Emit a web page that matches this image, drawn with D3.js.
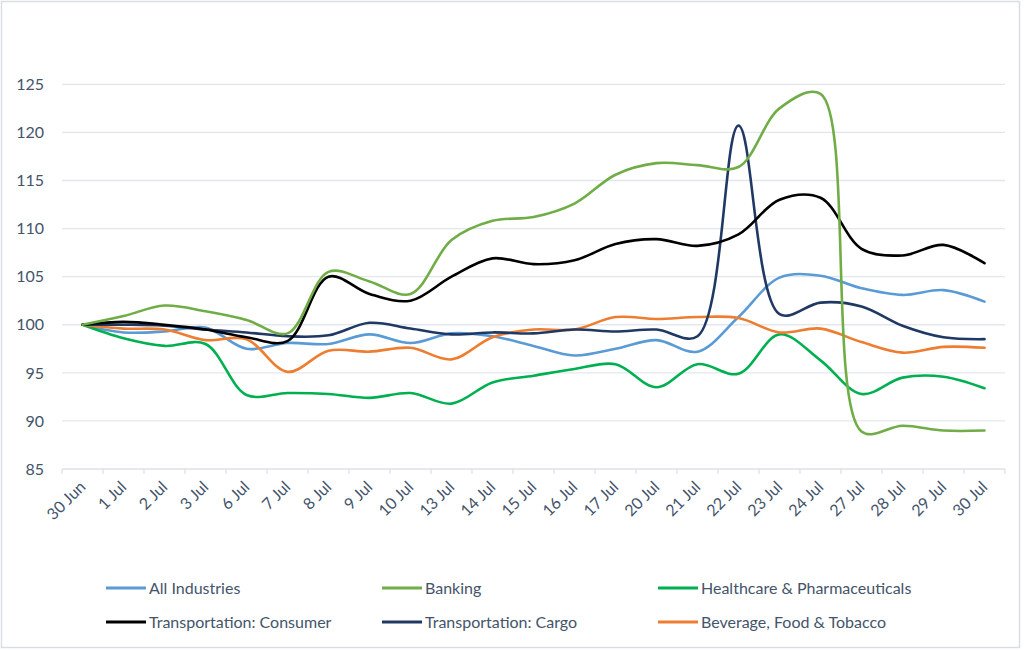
<!DOCTYPE html>
<html>
<head>
<meta charset="utf-8">
<script src="https://cdn.jsdelivr.net/npm/d3@7"></script>
<style>
  body { margin: 0; background: #fff; }
  text { font-family: Lato, "Open Sans", sans-serif; fill: #44546A; }
</style>
</head>
<body>
<script>
const width = 1024;
const height = 650;

const dates = ["30 Jun", "1 Jul", "2 Jul", "3 Jul", "6 Jul", "7 Jul", "8 Jul", "9 Jul",
  "10 Jul", "13 Jul", "14 Jul", "15 Jul", "16 Jul", "17 Jul", "20 Jul", "21 Jul",
  "22 Jul", "23 Jul", "24 Jul", "27 Jul", "28 Jul", "29 Jul", "30 Jul"];
const yTicks = [85, 90, 95, 100, 105, 110, 115, 120, 125];

const allIndustries = [100, 99.2, 99.3, 99.7, 97.5, 98.1, 98.0, 99.0, 98.1, 99.1, 98.8, 97.8,
  96.8, 97.5, 98.4, 97.2, 100.8, 104.9, 105.1, 103.8, 103.1, 103.6, 102.4];
const banking = [100, 100.9, 102.0, 101.4, 100.5, 99.1, 105.5, 104.5, 103.2, 108.8, 110.8, 111.2,
  112.6, 115.6, 116.8, 116.6, 116.4, 122.5, 124.0, 88.9, 89.5, 89.0, 89.0];
const healthcare = [100, 98.6, 97.8, 98.0, 92.7, 92.9, 92.8, 92.4, 92.9, 91.8, 94.0, 94.7,
  95.4, 95.9, 93.5, 95.9, 94.9, 99.0, 96.3, 92.8, 94.5, 94.6, 93.4];
const transConsumer = [100, 100.3, 100.0, 99.5, 98.7, 98.3, 105.0, 103.2, 102.5, 105.0, 106.9, 106.3,
  106.7, 108.4, 108.9, 108.2, 109.4, 113.0, 113.2, 107.9, 107.2, 108.3, 106.4];
const transCargo = [100, 100.0, 99.9, 99.5, 99.2, 98.8, 98.9, 100.2, 99.6, 99.0, 99.2, 99.1,
  99.5, 99.3, 99.5, 98.8, 120.7, 101.1, 102.3, 101.9, 99.9, 98.7, 98.5];
const beverage = [100, 99.6, 99.5, 98.4, 98.5, 95.1, 97.3, 97.2, 97.6, 96.4, 98.7, 99.5,
  99.5, 100.8, 100.6, 100.8, 100.7, 99.2, 99.6, 98.2, 97.1, 97.7, 97.6];

const seriesNames = ["All Industries", "Banking", "Healthcare & Pharmaceuticals",
  "Transportation: Consumer", "Transportation: Cargo", "Beverage, Food & Tobacco"];
const seriesValues = [allIndustries, banking, healthcare, transConsumer, transCargo, beverage];
const seriesColors = ["#5B9BD5", "#70AD47", "#00B050", "#000000", "#203864", "#ED7D31"];

// draw order: put banking/cargo spikes on top like the original
const drawOrder = [0, 2, 5, 4, 3, 1];

const margin = { left: 62, right: 1005, top: 84.3, bottom: 469 };

const svg = d3.select("body").append("svg")
    .attr("width", width)
    .attr("height", height);

svg.append("rect")
    .attr("x", 1.5).attr("y", 1.5)
    .attr("width", 1018).attr("height", 646)
    .attr("fill", "#fff")
    .attr("stroke", "#D9DEE5")
    .attr("stroke-width", 1.5);

const x = d3.scaleBand()
    .domain(dates)
    .range([margin.left, margin.right]);

const y = d3.scaleLinear()
    .domain([85, 125])
    .range([margin.bottom, margin.top]);

// gridlines
svg.append("g")
  .selectAll("line")
  .data(yTicks.slice(1))
  .join("line")
    .attr("x1", margin.left).attr("x2", margin.right)
    .attr("y1", d => y(d)).attr("y2", d => y(d))
    .attr("stroke", "#E3E7ED")
    .attr("stroke-width", 1.3);

// y labels
svg.append("g")
  .selectAll("text")
  .data(yTicks)
  .join("text")
    .attr("x", 44)
    .attr("y", d => y(d))
    .attr("dy", "0.36em")
    .attr("text-anchor", "end")
    .attr("font-size", 16)
    .text(d => d);

// x axis
const xAxis = svg.append("g")
    .attr("transform", `translate(0,${margin.bottom})`);
xAxis.append("line")
    .attr("x1", margin.left).attr("x2", margin.right)
    .attr("stroke", "#DDE2E8").attr("stroke-width", 1.3);
xAxis.selectAll(".tick")
  .data(dates.concat(["_end"]))
  .join("line")
    .attr("x1", (d, i) => margin.left + i * x.step())
    .attr("x2", (d, i) => margin.left + i * x.step())
    .attr("y1", 0).attr("y2", 5)
    .attr("stroke", "#DDE2E8").attr("stroke-width", 1.3);
xAxis.selectAll("text")
  .data(dates)
  .join("text")
    .attr("text-anchor", "end")
    .attr("font-size", 16)
    .attr("transform", d => `translate(${x(d) + x.bandwidth() / 2 + 4},${19}) rotate(-45)`)
    .text(d => d);

// lines
const line = d3.line()
    .x((d, i) => x(dates[i]) + x.bandwidth() / 2)
    .y(d => y(d))
    .curve(d3.curveCatmullRom.alpha(0.5));

svg.append("g")
  .selectAll("path")
  .data(drawOrder)
  .join("path")
    .attr("d", k => line(seriesValues[k]))
    .attr("fill", "none")
    .attr("stroke", k => seriesColors[k])
    .attr("stroke-width", 2.6)
    .attr("stroke-linejoin", "round")
    .attr("stroke-linecap", "round");

// legend
const legendCols = [106, 382, 658];
const legendRows = [588, 622];
const legend = svg.append("g")
  .selectAll("g")
  .data(seriesNames)
  .join("g")
    .attr("transform", (d, i) => `translate(${legendCols[i % 3]},${legendRows[Math.floor(i / 3)]})`);
legend.append("line")
    .attr("x1", 0).attr("x2", 40)
    .attr("stroke", (d, i) => seriesColors[i])
    .attr("stroke-width", 3);
legend.append("text")
    .attr("x", 43)
    .attr("dy", "0.36em")
    .attr("font-size", 16)
    .text(d => d);
</script>
</body>
</html>
